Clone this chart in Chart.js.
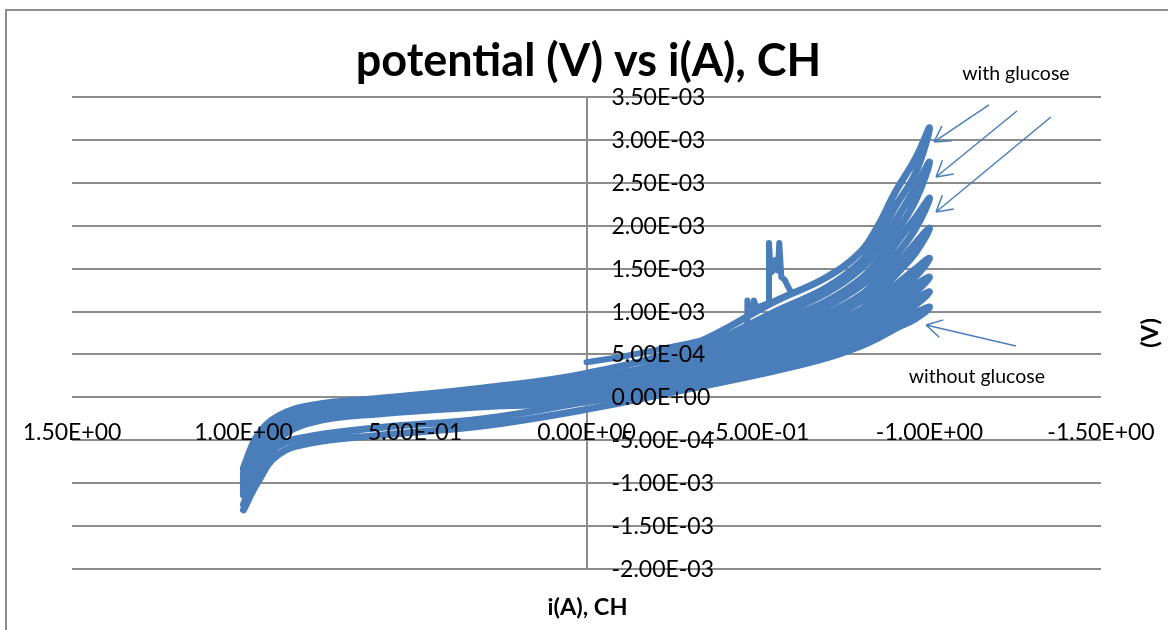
<!DOCTYPE html>
<html>
<head>
<meta charset="utf-8">
<script src="https://cdn.jsdelivr.net/npm/chart.js@4.4.1/dist/chart.umd.min.js"></script>
<style>
  html, body { margin: 0; padding: 0; background: #fff; overflow: hidden; }
  #frame { position: absolute; left: 5px; top: 9px; width: 1300px; height: 800px; border: 2px solid #8c8c8c; }
  #myChart { position: absolute; left: 0; top: 0; }
</style>
</head>
<body>
<div id="frame"></div>
<canvas id="myChart" width="1168" height="630"></canvas>
<script>
// current sample points shared by every sweep (A), left tip -> right tip
const sweepI = [1.0, 0.96, 0.9, 0.8, 0.6, 0.3, 0, -0.3, -0.55, -0.7, -0.8, -0.85, -0.9, -0.96, -1.0];

// potential (V) on the forward branch of each cycle, at sweepI
const forwardV = [
  [-0.00084, -0.00055, -0.00030, -0.00016, -0.00008, 0.00003, 0.00018, 0.00052, 0.00100, 0.00128, 0.00158, 0.00185, 0.00222, 0.00262, 0.00314],
  [-0.00090, -0.00060, -0.00034, -0.00019, -0.00011, 0.00000, 0.00013, 0.00042, 0.00086, 0.00112, 0.00138, 0.00160, 0.00190, 0.00230, 0.00274],
  [-0.00095, -0.00064, -0.00037, -0.00021, -0.00013, -0.00003, 0.00009, 0.00035, 0.00074, 0.00097, 0.00119, 0.00138, 0.00164, 0.00197, 0.00232],
  [-0.00100, -0.00068, -0.00040, -0.00023, -0.00015, -0.00005, 0.00005, 0.00029, 0.00064, 0.00084, 0.00102, 0.00119, 0.00142, 0.00169, 0.00197],
  [-0.00105, -0.00072, -0.00043, -0.00025, -0.00017, -0.00008, 0.00002, 0.00025, 0.00055, 0.00073, 0.00089, 0.00102, 0.00120, 0.00141, 0.00162],
  [-0.00110, -0.00076, -0.00046, -0.00027, -0.00018, -0.00010, -0.00001, 0.00021, 0.00047, 0.00064, 0.00078, 0.00090, 0.00104, 0.00123, 0.00140],
  [-0.00114, -0.00080, -0.00049, -0.00029, -0.00019, -0.00011, -0.00005, 0.00017, 0.00040, 0.00056, 0.00069, 0.00080, 0.00092, 0.00108, 0.00123],
  [-0.00131, -0.00100, -0.00067, -0.00053, -0.00044, -0.00033, -0.00014, 0.00010, 0.00031, 0.00046, 0.00060, 0.00069, 0.00080, 0.00092, 0.00105]
];

// potential (V) on the return branch of each cycle, also listed at sweepI
const returnV = [
  [-0.00082, -0.00045, -0.00022, -0.00009, -0.00001, 0.00011, 0.00028, 0.00060, 0.00112, 0.00140, 0.00170, 0.00200, 0.00239, 0.00279, 0.00314],
  [-0.00088, -0.00050, -0.00025, -0.00011, -0.00003, 0.00008, 0.00022, 0.00048, 0.00094, 0.00122, 0.00150, 0.00174, 0.00205, 0.00245, 0.00274],
  [-0.00093, -0.00054, -0.00027, -0.00013, -0.00005, 0.00006, 0.00017, 0.00040, 0.00081, 0.00106, 0.00130, 0.00150, 0.00178, 0.00210, 0.00232],
  [-0.00098, -0.00058, -0.00030, -0.00015, -0.00007, 0.00004, 0.00013, 0.00034, 0.00070, 0.00092, 0.00112, 0.00129, 0.00152, 0.00180, 0.00197],
  [-0.00103, -0.00062, -0.00033, -0.00017, -0.00009, 0.00002, 0.00010, 0.00029, 0.00060, 0.00080, 0.00097, 0.00111, 0.00130, 0.00150, 0.00162],
  [-0.00108, -0.00066, -0.00036, -0.00019, -0.00010, 0.00000, 0.00007, 0.00024, 0.00052, 0.00070, 0.00085, 0.00098, 0.00113, 0.00131, 0.00140],
  [-0.00112, -0.00070, -0.00039, -0.00021, -0.00012, -0.00002, 0.00004, 0.00021, 0.00045, 0.00062, 0.00075, 0.00086, 0.00100, 0.00115, 0.00123],
  [-0.00125, -0.00085, -0.00057, -0.00045, -0.00035, -0.00025, -0.00005, 0.00016, 0.00038, 0.00054, 0.00066, 0.00076, 0.00088, 0.00099, 0.00105]
];

// first (noisy) part of the record, starting at i = 0
const startI = [0, -0.1, -0.2, -0.3, -0.4, -0.46, -0.468, -0.469, -0.474, -0.48, -0.486, -0.488, -0.494, -0.506, -0.52, -0.53, -0.532, -0.537, -0.545, -0.55, -0.558, -0.562, -0.568, -0.578, -0.586, -0.593, -0.6];
const startV = [0.00041, 0.00047, 0.00055, 0.00063, 0.00072, 0.00077, 0.00080, 0.00113, 0.00102, 0.00098, 0.00102, 0.00113, 0.00106, 0.00106, 0.00108, 0.00110, 0.00180, 0.00145, 0.00148, 0.00160, 0.00148, 0.00180, 0.00140, 0.00137, 0.00130, 0.00125, 0.00122];

const xTicks = { min: -1.5, max: 1.5, step: 0.5 };
const yTicks = { min: -0.002, max: 0.0035, step: 0.0005 };

// callouts, in data units
const arrows = [
  { from: [-1.1735, 0.003407], to: [-1.013, 0.002976] },
  { from: [-1.255, 0.003337], to: [-1.019, 0.002568] },
  { from: [-1.354, 0.003267], to: [-1.019, 0.002160] },
  { from: [-1.252, 0.000598], to: [-0.990, 0.000843] }
];
const notes = [
  { text: 'with glucose', at: [-1.252, 0.003698] },
  { text: 'without glucose', at: [-1.138, 0.000167] }
];

const blue = '#4a7ebb';

function sci(v) {
  if (Math.abs(v) < 1e-12) return '0.00E+00';
  let e = Math.floor(Math.log10(Math.abs(v)));
  let m = v / Math.pow(10, e);
  if (Math.abs(m) >= 9.995) { e += 1; m = v / Math.pow(10, e); }
  return m.toFixed(2) + 'E' + (e < 0 ? '-' : '+') + String(Math.abs(e)).padStart(2, '0');
}

const lineStyle = {
  showLine: true,
  borderColor: blue,
  backgroundColor: blue,
  borderWidth: 7,
  borderCapStyle: 'round',
  borderJoinStyle: 'round',
  pointRadius: 0,
  fill: false
};

const datasets = forwardV.map((fv, k) => {
  const pts = sweepI.map((x, j) => ({ x: x, y: fv[j] }));
  for (let j = sweepI.length - 2; j >= 0; j--) {
    pts.push({ x: sweepI[j], y: returnV[k][j] });
  }
  return Object.assign({ label: 'cycle ' + (k + 1), data: pts, tension: 0.4 }, lineStyle);
});
datasets.push(Object.assign({
  label: 'start',
  data: startI.map((x, j) => ({ x: x, y: startV[j] })),
  tension: 0,
  borderWidth: 6
}, { showLine: true, borderColor: blue, borderCapStyle: 'round', borderJoinStyle: 'round', pointRadius: 0, fill: false }));

const excelText = {
  id: 'excelText',
  afterDatasetsDraw(chart) {
    const { ctx, chartArea, scales: { x, y } } = chart;
    const x0 = x.getPixelForValue(0);
    const y0 = y.getPixelForValue(0);
    ctx.save();
    ctx.fillStyle = '#000';

    // tick labels sit next to the crossing axes
    ctx.font = '23px Lato';
    ctx.textBaseline = 'alphabetic';
    ctx.textAlign = 'left';
    y.ticks.forEach(t => ctx.fillText(sci(t.value), x0 + 25, y.getPixelForValue(t.value) + 8));
    ctx.textAlign = 'center';
    x.ticks.forEach(t => ctx.fillText(sci(t.value), x.getPixelForValue(t.value), y0 + 43));

    // titles
    const midX = (chartArea.left + chartArea.right) / 2;
    ctx.font = 'bold 45px Lato';
    ctx.fillText('potential (V) vs i(A), CH', midX + 2, chartArea.top - 21);
    ctx.font = 'bold 23.5px Lato';
    ctx.fillText('i(A), CH', midX + 1, chartArea.bottom + 46);
    ctx.save();
    ctx.translate(1150, (chartArea.top + chartArea.bottom) / 2);
    ctx.rotate(-Math.PI / 2);
    ctx.textBaseline = 'middle';
    ctx.fillText('(V)', 0, 0);
    ctx.restore();

    // callouts
    ctx.font = '19.5px Lato';
    notes.forEach(n => ctx.fillText(n.text, x.getPixelForValue(n.at[0]), y.getPixelForValue(n.at[1])));
    ctx.strokeStyle = blue;
    ctx.lineWidth = 1.5;
    arrows.forEach(a => {
      const sx = x.getPixelForValue(a.from[0]), sy = y.getPixelForValue(a.from[1]);
      const tx = x.getPixelForValue(a.to[0]), ty = y.getPixelForValue(a.to[1]);
      const ang = Math.atan2(sy - ty, sx - tx);
      ctx.beginPath();
      ctx.moveTo(sx, sy);
      ctx.lineTo(tx, ty);
      [-0.52, 0.52].forEach(d => {
        ctx.moveTo(tx, ty);
        ctx.lineTo(tx + 18 * Math.cos(ang + d), ty + 18 * Math.sin(ang + d));
      });
      ctx.stroke();
    });
    ctx.restore();
  }
};

const ctx = document.getElementById('myChart').getContext('2d');
const myChart = new Chart(ctx, {
  type: 'scatter',
  data: { datasets: datasets },
  options: {
    responsive: false,
    animation: false,
    devicePixelRatio: 1,
    layout: { padding: { left: 72, right: 67, top: 97, bottom: 61 } },
    scales: {
      x: {
        type: 'linear',
        reverse: true,
        min: xTicks.min,
        max: xTicks.max,
        ticks: { stepSize: xTicks.step, display: false },
        grid: {
          drawTicks: false,
          lineWidth: 2,
          color: c => (Math.abs(c.tick.value) < 1e-9 ? '#8c8c8c' : 'rgba(0,0,0,0)')
        },
        border: { display: false }
      },
      y: {
        type: 'linear',
        min: yTicks.min,
        max: yTicks.max,
        ticks: { stepSize: yTicks.step, display: false },
        grid: { drawTicks: false, lineWidth: 2, color: '#8c8c8c' },
        border: { display: false }
      }
    },
    plugins: {
      legend: { display: false },
      tooltip: { enabled: false }
    }
  },
  plugins: [excelText]
});
</script>
</body>
</html>
